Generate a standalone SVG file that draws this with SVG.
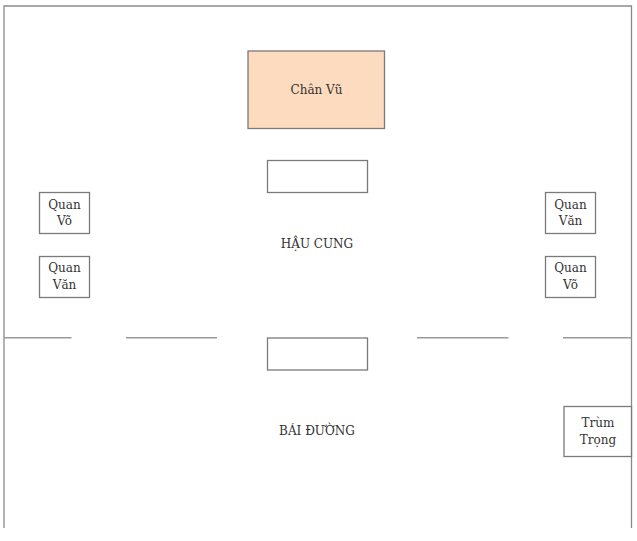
<svg xmlns="http://www.w3.org/2000/svg" width="637" height="541" viewBox="0 0 637 541">
<style>
.box{fill:#fff;stroke:#7a7a7a;stroke-width:1.3}
.wall{fill:none;stroke:#8a8a8a;stroke-width:1.3}
.div{fill:none;stroke:#9a9a9a;stroke-width:1.5}
text{font-family:"DejaVu Serif","Liberation Serif",serif;font-size:12px;fill:#333;text-anchor:middle;dominant-baseline:central}
</style>
<rect width="637" height="541" fill="#fff"/>
<g id="walls">
<path class="wall" d="M4,528 V6 H631.5 V528"/>
</g>
<g id="connectors">
<line class="div" x1="4" y1="337.7" x2="71.5" y2="337.7"/>
<line class="div" x1="126" y1="337.7" x2="217" y2="337.7"/>
<line class="div" x1="417" y1="337.7" x2="508.5" y2="337.7"/>
<line class="div" x1="563" y1="337.7" x2="631.5" y2="337.7"/>
</g>
<g id="chan-vu">
<rect class="box" x="248" y="51" width="136.5" height="77.5" style="fill:#fddbbe"/>
<text x="316.5" y="89.5">Chân Vũ</text>
</g>
<g id="altar-top">
<rect class="box" x="267.5" y="160.5" width="100" height="32"/>
</g>
<g id="hau-cung">
<text x="317" y="244">HẬU CUNG</text>
</g>
<g id="quan-vo-left">
<rect class="box" x="39.5" y="192.5" width="50" height="41"/>
<text x="64.5" y="204.5">Quan</text>
<text x="64.5" y="220.5">Võ</text>
</g>
<g id="quan-van-left">
<rect class="box" x="39.5" y="256.5" width="50" height="41"/>
<text x="64.5" y="268">Quan</text>
<text x="64.5" y="284.5">Văn</text>
</g>
<g id="quan-van-right">
<rect class="box" x="545.5" y="192.5" width="50" height="41"/>
<text x="570.5" y="204.5">Quan</text>
<text x="570.5" y="220.5">Văn</text>
</g>
<g id="quan-vo-right">
<rect class="box" x="545.5" y="256.5" width="50" height="41"/>
<text x="570.5" y="268">Quan</text>
<text x="570.5" y="284.5">Võ</text>
</g>
<g id="altar-bottom">
<rect class="box" x="267.5" y="338" width="100" height="32"/>
</g>
<g id="bai-duong">
<text x="317" y="431">BÁI ĐƯỜNG</text>
</g>
<g id="trum-trong">
<rect class="box" x="564" y="406.5" width="67.5" height="50"/>
<text x="598" y="422.5">Trùm</text>
<text x="598" y="440">Trọng</text>
</g>
</svg>
